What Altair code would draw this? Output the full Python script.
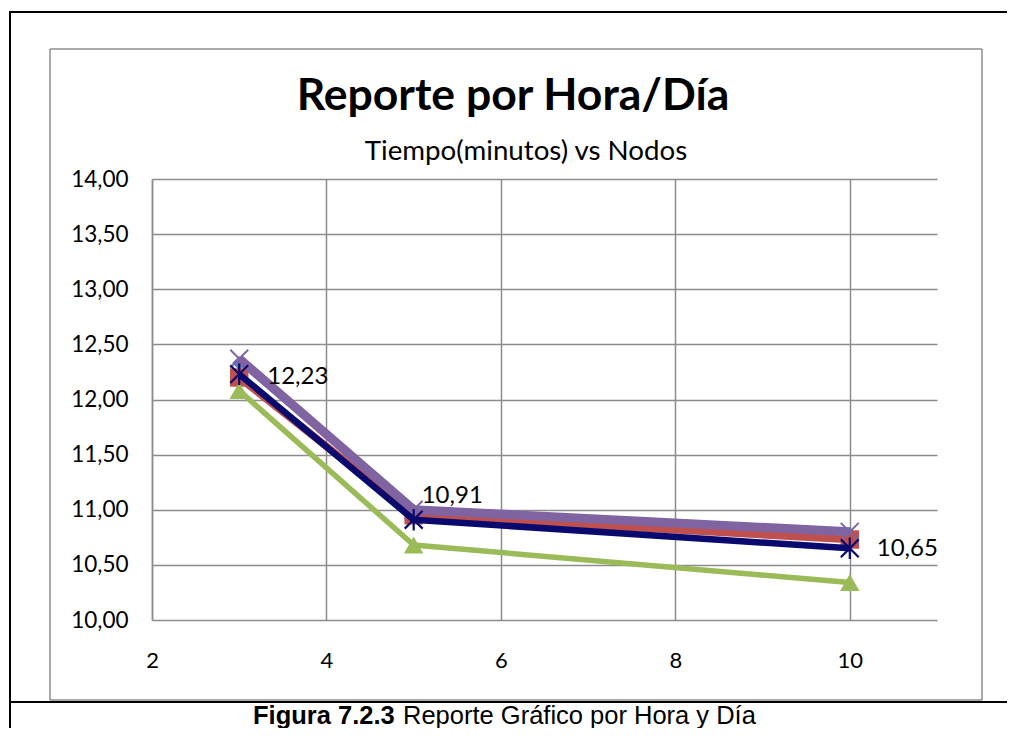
import altair as alt
import pandas as pd

nodos = [3, 5, 10]
serie_azul = [12.33, 10.99, 10.78]
serie_roja = [12.20, 10.95, 10.73]
serie_verde = [12.08, 10.68, 10.34]
serie_morada = [12.37, 11.00, 10.80]
serie_marino = [12.23, 10.91, 10.65]

x_ticks = [2, 4, 6, 8, 10]
y_ticks = [10.0, 10.5, 11.0, 11.5, 12.0, 12.5, 13.0, 13.5, 14.0]

titulo = "Reporte por Hora/Día"
subtitulo = "Tiempo(minutos) vs Nodos"
pie_bold = "Figura 7.2.3"
pie_rest = "Reporte Gráfico por Hora y Día"

W, H = 785, 441
PL, PT = 144, 171
TOTW, TOTH = 999, 720
PR = TOTW - PL - W
PB = TOTH - PT - H

rows = []
for name, vals in [("Serie1", serie_azul), ("Serie2", serie_roja), ("Serie3", serie_verde),
                   ("Serie4", serie_morada), ("Serie5", serie_marino)]:
    for xv, yv in zip(nodos, vals):
        rows.append({"serie": name, "nodos": xv, "tiempo": yv})
df = pd.DataFrame(rows)

xs = alt.Scale(domain=[2, 11], nice=False, zero=False)
ys = alt.Scale(domain=[10, 14], nice=False, zero=False)

x_axis = alt.Axis(values=x_ticks, grid=True, gridColor="#8c8c8c", gridWidth=1.5,
                  domain=False, ticks=False, labelFont="Lato", labelFontSize=22,
                  labelColor="#000000", labelPadding=30, title=None, labelFlush=False)
y_axis = alt.Axis(values=y_ticks, grid=True, gridColor="#8c8c8c", gridWidth=1.5,
                  domain=True, domainColor="#8c8c8c", domainWidth=1.5,
                  ticks=False, labelFont="Lato", labelFontSize=22.5, labelColor="#000000",
                  labelPadding=24, title=None,
                  labelExpr="replace(format(datum.value, '.2f'), '.', ',')")

base = alt.Chart(df)

def X():
    return alt.X("nodos:Q", scale=xs, axis=x_axis)

def Y():
    return alt.Y("tiempo:Q", scale=ys, axis=y_axis)

styles = [
    ("Serie1", "#4F81BD", 3, "diamond", True, 200, 1),
    ("Serie2", "#C0504D", 7.5, "square", True, 340, 1),
    ("Serie3", "#9BBB59", 5.5, "triangle-up", True, 380, 1),
    ("Serie4", "#8064A2", 9, "M-1,-1L1,1M-1,1L1,-1", False, 320, 2),
    ("Serie5", "#0A0A6E", 6.5, "M-1,-1L1,1M-1,1L1,-1M0,-1.2L0,1.2", False, 320, 2.2),
]

layers = []
for name, color, lw, shape, filled, size, sw in styles:
    sub = base.transform_filter(alt.datum.serie == name)
    layers.append(sub.mark_line(color=color, strokeWidth=lw, strokeJoin="round").encode(x=X(), y=Y()))
    if filled:
        layers.append(sub.mark_point(shape=shape, filled=True, color=color, size=size, opacity=1).encode(x=X(), y=Y()))
    else:
        layers.append(sub.mark_point(shape=shape, filled=False, color=color, size=size,
                                     strokeWidth=sw, opacity=1).encode(x=X(), y=Y()))

# data labels for navy series
lab = base.transform_filter(alt.datum.serie == "Serie5").transform_calculate(
    txt="replace(format(datum.tiempo, '.2f'), '.', ',')"
)
for xv, dx, dy in [(3, 28, 3), (5, 8, -24), (10, 27, 1)]:
    layers.append(
        lab.transform_filter(alt.datum.nodos == xv)
        .mark_text(align="left", baseline="middle", font="Lato", fontSize=24, color="#000000", dx=dx, dy=dy)
        .encode(x=X(), y=Y(), text="txt:N")
    )

one = alt.Chart(pd.DataFrame({"a": [0]}))

def rule(x1, x2, y1, y2, color, w):
    return one.mark_rule(color=color, strokeWidth=w).encode(
        x=alt.value(x1), x2=alt.value(x2), y=alt.value(y1), y2=alt.value(y2))

ox, oy = 152, 179
frames = [
    # inner gray chart border
    rule(50 - ox, 982 - ox, 49 - oy, 49 - oy, "#8c8c8c", 1.5),
    rule(50 - ox, 982 - ox, 700 - oy, 700 - oy, "#8c8c8c", 1.5),
    rule(50 - ox, 50 - ox, 49 - oy, 700 - oy, "#8c8c8c", 1.5),
    rule(982 - ox, 982 - ox, 49 - oy, 700 - oy, "#8c8c8c", 1.5),
    # outer black frame
    rule(9 - ox, 1020 - ox, 12 - oy, 12 - oy, "#000000", 2),
    rule(10 - ox, 10 - ox, 11 - oy, 740 - oy, "#000000", 2),
    rule(9 - ox, 1020 - ox, 702 - oy, 702 - oy, "#000000", 2),
]

texts = [
    one.mark_text(font="Lato", fontSize=44.5, fontWeight="bold", align="center", baseline="alphabetic",
                  color="#000000").encode(x=alt.value(513 - ox), y=alt.value(110 - oy), text=alt.value(titulo)),
    one.mark_text(font="Lato", fontSize=27.7, align="center", baseline="alphabetic",
                  color="#000000").encode(x=alt.value(526 - ox), y=alt.value(160 - oy), text=alt.value(subtitulo)),
    one.mark_text(font="Liberation Sans", fontSize=25.5, fontWeight="bold", align="left", baseline="alphabetic",
                  color="#000000").encode(x=alt.value(253 - ox), y=alt.value(724 - oy), text=alt.value(pie_bold)),
    one.mark_text(font="Liberation Sans", fontSize=25.5, align="left", baseline="alphabetic",
                  color="#000000").encode(x=alt.value(403 - ox), y=alt.value(724 - oy), text=alt.value(pie_rest)),
]

chart = alt.layer(*layers, *frames, *texts).properties(
    width=W, height=H,
    padding={"left": PL, "top": PT, "right": PR, "bottom": PB},
    autosize=alt.AutoSizeParams(type="none"),
    background="white",
).configure_view(stroke=None)

chart.save("out.html", embed_options={"renderer": "svg", "actions": False})
